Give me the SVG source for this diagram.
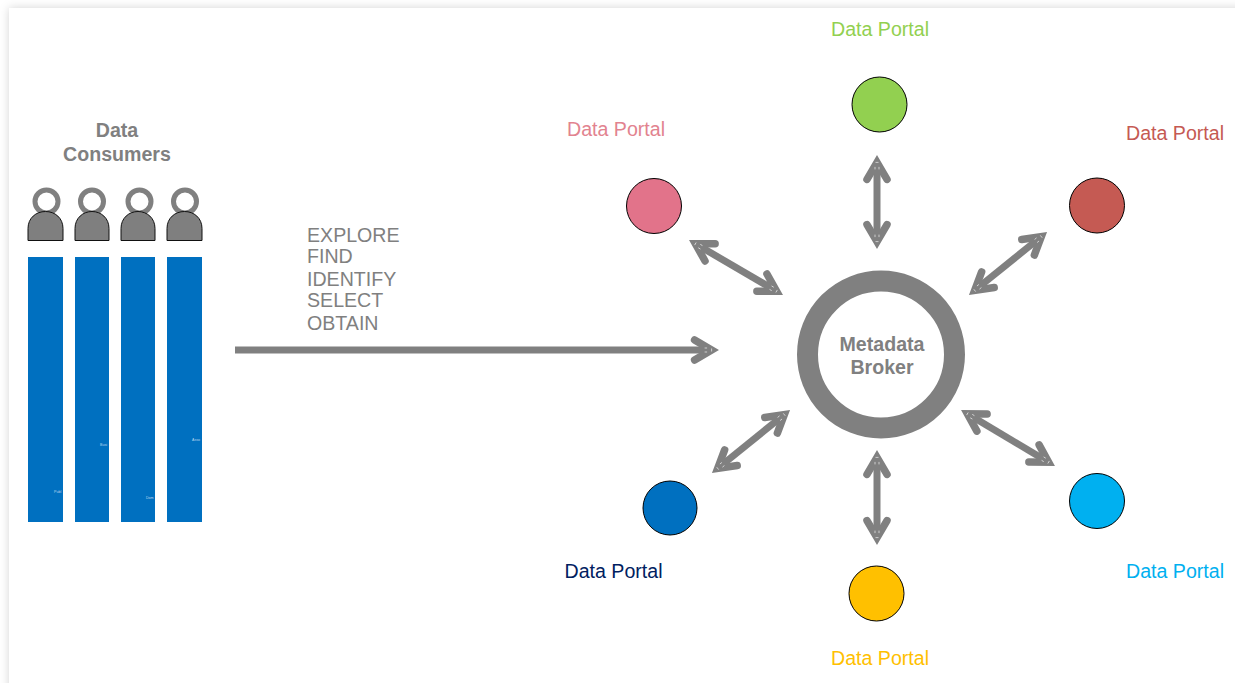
<svg xmlns="http://www.w3.org/2000/svg" width="1235" height="683" viewBox="0 0 1235 683">
<style>
text{font-family:"Liberation Sans",Arial,sans-serif;font-size:19.6px;fill:#808080}
.b{font-weight:bold;text-anchor:middle}
.m{text-anchor:middle}
.bar{fill:#0070c0}
.tiny{font-size:3.6px;fill:#bdd7ee}
.body{fill:#7f7f7f;stroke:#111;stroke-width:1}
.ring{fill:#fff;stroke:#808080;stroke-width:5}
.portal{stroke:#000;stroke-width:1}
.conn{fill:none;stroke:#808080;stroke-width:7;marker-start:url(#head);marker-end:url(#head)}
</style>
<defs>
<filter id="sh" x="-5%" y="-5%" width="110%" height="110%"><feDropShadow dx="0" dy="0" stdDeviation="5" flood-color="#000" flood-opacity="0.17"/></filter>
<marker id="head" markerUnits="userSpaceOnUse" markerWidth="44" markerHeight="44" viewBox="-22 -22 44 44" refX="0" refY="0" orient="auto-start-reverse" overflow="visible">
<path d="M-17,-10 L0,0 L-17,10" fill="none" stroke="#808080" stroke-width="7.500" stroke-linecap="round" stroke-linejoin="miter" stroke-miterlimit="6"/>
<path d="M0,-1.500 V1.500 M-7,-2 H-4.500 M-7,2 H-4.500" stroke="#fff" stroke-width="0.6" fill="none"/>
</marker>
<marker id="headEnd" markerUnits="userSpaceOnUse" markerWidth="44" markerHeight="44" viewBox="-22 -22 44 44" refX="0" refY="0" orient="auto" overflow="visible">
<path d="M-17,-10 L0,0 L-17,10" fill="none" stroke="#808080" stroke-width="7.500" stroke-linecap="round" stroke-linejoin="miter" stroke-miterlimit="6"/>
<path d="M0,-1.500 V1.500 M-7,-2 H-4.500 M-7,2 H-4.500" stroke="#fff" stroke-width="0.6" fill="none"/>
</marker>
</defs>
<rect width="1235" height="683" fill="#fff"/>
<rect x="9" y="8" width="1400" height="900" fill="#fff" filter="url(#sh)"/>

<g id="consumers-label"><text class="b" x="117" y="137">Data</text><text class="b" x="117" y="161">Consumers</text></g>

<g id="consumer-1">
<circle class="ring" cx="46.500" cy="201.500" r="11.500"/>
<path class="body" d="M28,240.500V228.500C28,218 36,211.500 45.500,211.500S63,218 63,228.500V240.500Z"/>
<rect class="bar" x="28" y="257" width="35" height="265"/>
<text class="tiny" x="54" y="492.500">Publ</text>
</g>
<g id="consumer-2">
<circle class="ring" cx="92" cy="201.500" r="11.500"/>
<path class="body" d="M75,240.500V228.500C75,218 83,211.500 92,211.500S109,218 109,228.500V240.500Z"/>
<rect class="bar" x="75" y="257" width="34" height="265"/>
<text class="tiny" x="100" y="445.500">Busi</text>
</g>
<g id="consumer-3">
<circle class="ring" cx="139.500" cy="201.500" r="11.500"/>
<path class="body" d="M121,240.500V228.500C121,218 129,211.500 138,211.500S155,218 155,228.500V240.500Z"/>
<rect class="bar" x="121" y="257" width="34" height="265"/>
<text class="tiny" x="146" y="498.500">Dom</text>
</g>
<g id="consumer-4">
<circle class="ring" cx="185" cy="201.500" r="11.500"/>
<path class="body" d="M167,240.500V228.500C167,218 175,211.500 184.500,211.500S202,218 202,228.500V240.500Z"/>
<rect class="bar" x="167" y="257" width="35" height="265"/>
<text class="tiny" x="192" y="440.500">Asso</text>
</g>

<g id="actions">
<text x="307" y="242">EXPLORE</text>
<text x="307" y="263">FIND</text>
<text x="307" y="286">IDENTIFY</text>
<text x="307" y="307">SELECT</text>
<text x="307" y="330">OBTAIN</text>
</g>

<g id="connectors">
<path fill="none" stroke="#808080" stroke-width="7" marker-end="url(#headEnd)" d="M235,350H711.600"/>
<path class="conn" d="M877,162.400V241.600"/>
<path class="conn" d="M877,457.400V537.600"/>
<path class="conn" d="M695.400,243.800L776.600,291.200"/>
<path class="conn" d="M1041.300,236.600L974.700,290.400"/>
<path class="conn" d="M967.400,413.800L1048.600,462.200"/>
<path class="conn" d="M784.300,414.600L717.700,468.400"/>
</g>

<g id="broker">
<circle cx="881" cy="354.500" r="73.500" fill="#fff" stroke="#808080" stroke-width="21"/>
<text class="b" x="882" y="351">Metadata</text>
<text class="b" x="882" y="374">Broker</text>
</g>

<g id="portal-green"><circle class="portal" cx="879.500" cy="104.500" r="27.500" fill="#92d050"/><text class="m" x="880" y="36" style="fill:#92d050">Data Portal</text></g>
<g id="portal-pink"><circle class="portal" cx="654" cy="206" r="27.500" fill="#e2738a"/><text class="m" x="616" y="136" style="fill:#e2838f">Data Portal</text></g>
<g id="portal-red"><circle class="portal" cx="1097" cy="205.500" r="27.500" fill="#c55a53"/><text class="m" x="1175" y="140" style="fill:#c55a53">Data Portal</text></g>
<g id="portal-blue"><circle class="portal" cx="670" cy="508" r="27" fill="#0070c0"/><text class="m" x="613.500" y="578" style="fill:#002060">Data Portal</text></g>
<g id="portal-cyan"><circle class="portal" cx="1097" cy="501" r="27.500" fill="#00b0f0"/><text class="m" x="1175" y="578" style="fill:#00b0f0">Data Portal</text></g>
<g id="portal-yellow"><circle class="portal" cx="876.500" cy="593.500" r="27.500" fill="#ffc000"/><text class="m" x="880" y="665" style="fill:#ffc000">Data Portal</text></g>
</svg>
